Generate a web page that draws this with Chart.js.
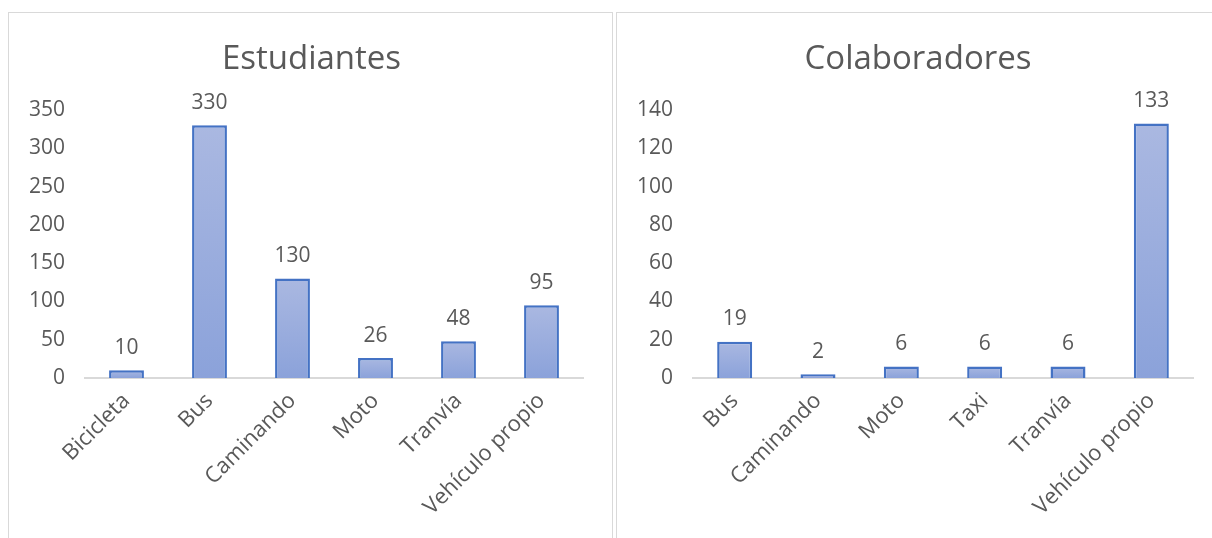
<!DOCTYPE html>
<html>
<head>
<meta charset="utf-8">
<script src="https://cdn.jsdelivr.net/npm/chart.js@4/dist/chart.umd.min.js"></script>
<style>
  body { margin: 0; background: #fff; width: 1212px; height: 538px; overflow: hidden; position: relative; }
  .box { position: absolute; top: 12px; height: 540px; border: 1px solid #d9d9d9; background: #fff; }
  #boxA { left: 8px; width: 603px; }
  #boxB { left: 616px; width: 610px; }
  canvas { position: absolute; left: 0; top: 0; }
</style>
</head>
<body>
<div class="box" id="boxA"><canvas id="chartA" width="603" height="526"></canvas></div>
<div class="box" id="boxB"><canvas id="chartB" width="600" height="526"></canvas></div>
<script>
// data
const estudiantesLabels = ['Bicicleta', 'Bus', 'Caminando', 'Moto', 'Tranvía', 'Vehículo propio'];
const estudiantesValues = [10, 330, 130, 26, 48, 95];
const colaboradoresLabels = ['Bus', 'Caminando', 'Moto', 'Taxi', 'Tranvía', 'Vehículo propio'];
const colaboradoresValues = [19, 2, 6, 6, 6, 133];

const textColor = '#595959';
const fontFamily = "'Open Sans', 'Noto Sans', sans-serif";

// draws value above each bar
const valueLabels = {
  id: 'valueLabels',
  afterDatasetsDraw(chart) {
    const ctx = chart.ctx;
    const meta = chart.getDatasetMeta(0);
    const values = chart.data.datasets[0].data;
    ctx.save();
    ctx.fillStyle = textColor;
    ctx.font = '21px ' + fontFamily;
    ctx.textAlign = 'center';
    ctx.textBaseline = 'bottom';
    meta.data.forEach((bar, i) => {
      ctx.fillText(String(values[i]), bar.x, bar.y - 12);
    });
    ctx.restore();
  }
};

// title centred on the whole canvas (the built-in one ignores the asymmetric padding)
const boxTitle = {
  id: 'boxTitle',
  afterDraw(chart, args, opts) {
    const ctx = chart.ctx;
    ctx.save();
    ctx.fillStyle = textColor;
    ctx.font = '33px ' + fontFamily;
    ctx.textAlign = 'center';
    ctx.textBaseline = 'middle';
    ctx.fillText(opts.text, chart.width / 2 + 1, 47);
    ctx.restore();
  }
};

function barFill(context) {
  const chart = context.chart;
  const area = chart.chartArea;
  if (!area || context.raw === undefined) return '#9aaede';
  const top = chart.scales.y.getPixelForValue(context.raw);
  const g = chart.ctx.createLinearGradient(0, top, 0, area.bottom);
  g.addColorStop(0, '#aab8e1');
  g.addColorStop(1, '#8ba2da');
  return g;
}

function makeChart(id, title, labels, values, maxY, step, yWidth, padRight) {
  return new Chart(document.getElementById(id), {
    type: 'bar',
    data: {
      labels: labels,
      datasets: [{
        data: values,
        backgroundColor: barFill,
        borderColor: '#4472c4',
        borderWidth: 2.5,
        borderSkipped: 'bottom',
        categoryPercentage: 1,
        barPercentage: 0.42
      }]
    },
    options: {
      responsive: false,
      animation: false,
      layout: { padding: { left: 0, right: padRight, top: 97, bottom: 0 } },
      plugins: {
        legend: { display: false },
        tooltip: { enabled: false },
        title: { display: false },
        boxTitle: { text: title }
      },
      scales: {
        x: {
          grid: { display: false, drawTicks: false },
          border: { display: true, color: '#d9d9d9', width: 2 },
          ticks: {
            color: textColor,
            font: { family: fontFamily, size: 22 },
            maxRotation: 45,
            minRotation: 45,
            padding: 10
          },
          afterFit(scale) { scale.height = 161; }
        },
        y: {
          min: 0,
          max: maxY,
          grid: { display: false, drawTicks: false },
          border: { display: false },
          ticks: {
            stepSize: step,
            color: textColor,
            font: { family: fontFamily, size: 21 },
            padding: 20
          },
          afterFit(scale) { scale.width = yWidth; }
        }
      }
    },
    plugins: [valueLabels, boxTitle]
  });
}

makeChart('chartA', 'Estudiantes', estudiantesLabels, estudiantesValues, 350, 50, 76, 29);
makeChart('chartB', 'Colaboradores', colaboradoresLabels, colaboradoresValues, 140, 20, 76, 24);
</script>
</body>
</html>
